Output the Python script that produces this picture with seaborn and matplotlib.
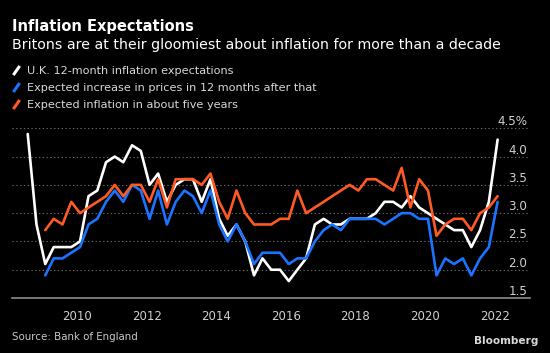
import numpy as np
import pandas as pd
import matplotlib
matplotlib.use("Agg")
import matplotlib.pyplot as plt
from matplotlib.lines import Line2D
import seaborn as sns

# ---- data (quarterly survey, Aug 2008 - Feb 2022) ----
dates = pd.date_range("2008-08-01", "2022-02-01", freq="3MS")

uk_12m = [4.4, 2.8, 2.1, 2.4, 2.4, 2.4, 2.5, 3.3, 3.4, 3.9,
          4.0, 3.9, 4.2, 4.1, 3.5, 3.7, 3.2, 3.5, 3.6, 3.6,
          3.2, 3.6, 2.9, 2.6, 2.8, 2.5, 1.9, 2.2, 2.0, 2.0,
          1.8, 2.0, 2.2, 2.8, 2.9, 2.8, 2.8, 2.9, 2.9, 2.9,
          3.0, 3.2, 3.2, 3.1, 3.3, 3.1, 3.0, 2.9, 2.8, 2.7,
          2.7, 2.4, 2.7, 3.2, 4.3]
after_12m = [np.nan, np.nan,
             1.9, 2.2, 2.2, 2.3, 2.4, 2.8, 2.9, 3.2,
             3.4, 3.2, 3.5, 3.4, 2.9, 3.4, 2.8, 3.2, 3.4, 3.3,
             3.0, 3.4, 2.8, 2.5, 2.8, 2.5, 2.1, 2.3, 2.3, 2.3,
             2.1, 2.2, 2.2, 2.5, 2.7, 2.8, 2.7, 2.9, 2.9, 2.9,
             2.9, 2.8, 2.9, 3.0, 3.0, 2.9, 2.9, 1.9, 2.2, 2.1,
             2.2, 1.9, 2.2, 2.4, 3.2]
five_year = [np.nan, np.nan,
             2.7, 2.9, 2.8, 3.2, 3.0, 3.1, 3.2, 3.3,
             3.5, 3.3, 3.5, 3.5, 3.2, 3.6, 3.1, 3.6, 3.6, 3.6,
             3.5, 3.7, 3.2, 2.9, 3.4, 3.0, 2.8, 2.8, 2.8, 2.9,
             2.9, 3.4, 3.0, 3.1, 3.2, 3.3, 3.4, 3.5, 3.4, 3.6,
             3.6, 3.5, 3.4, 3.8, 3.1, 3.6, 3.4, 2.6, 2.8, 2.9,
             2.9, 2.7, 3.0, 3.1, 3.3]

series_names = ["U.K. 12-month inflation expectations",
                "Expected increase in prices in 12 months after that",
                "Expected inflation in about five years"]
series_colors = ["#ffffff", "#1b74ff", "#ff5a23"]

y_ticks = [1.5, 2.0, 2.5, 3.0, 3.5, 4.0, 4.5]
y_tick_labels = ["1.5", "2.0", "2.5", "3.0", "3.5", "4.0", "4.5%"]
x_tick_years = [2010, 2012, 2014, 2016, 2018, 2020, 2022]

df = pd.concat([
    pd.DataFrame({"date": dates, "value": vals, "series": name})
    for name, vals in zip(series_names, [uk_12m, after_12m, five_year])
], ignore_index=True)

# ---- figure ----
sns.set_theme(style="dark")
plt.rcParams["font.family"] = ["DejaVu Sans"]
BG = "#000000"
fig = plt.figure(figsize=(5.5, 3.53), dpi=100, facecolor=BG)
ax = fig.add_axes([12 / 550, 1 - 298 / 353, (530 - 12) / 550, (298 - 128.3) / 353])
ax.set_facecolor(BG)

sns.lineplot(data=df, x="date", y="value", hue="series",
             hue_order=series_names,
             palette=dict(zip(series_names, series_colors)),
             linewidth=1.9, legend=False, ax=ax, zorder=3)

ax.set_xlim(pd.Timestamp("2008-02-18"), pd.Timestamp("2023-01-07"))
ax.set_ylim(1.5, 4.5)
ax.set_xlabel("")
ax.set_ylabel("")

# grid
ax.grid(False)
for v in y_ticks[1:]:
    ax.axhline(v, color="#6a6a6a", linestyle=(0, (1.2, 2.2)), linewidth=0.8, zorder=1)

for s in ["top", "left", "right"]:
    ax.spines[s].set_visible(False)
ax.spines["bottom"].set_color("#8c8c8c")
ax.spines["bottom"].set_linewidth(1.2)

ax.set_xticks([pd.Timestamp(f"{y}-01-01") for y in x_tick_years])
ax.set_xticklabels([str(y) for y in x_tick_years])
ax.tick_params(axis="x", colors="#8c8c8c", direction="out", length=4, width=1,
               labelcolor="#d0d0d0", labelsize=8.5, pad=4.5)

ax.yaxis.tick_right()
ax.set_yticks(y_ticks)
ax.set_yticklabels(y_tick_labels)
ax.tick_params(axis="y", length=0, labelcolor="#d0d0d0", labelsize=8.6, pad=-2)
for lab in ax.get_yticklabels():
    lab.set_ha("right")
    lab.set_va("bottom")

# titles
fig.text(12 / 550, 1 - 26 / 353, "Inflation Expectations", color="white",
         fontsize=10.5, fontweight="bold", va="center", ha="left")
fig.text(12 / 550, 1 - 45 / 353,
         "Britons are at their gloomiest about inflation for more than a decade",
         color="white", fontsize=10.15, va="center", ha="left")

# legend
handles = [Line2D([], [], linestyle="none", marker=(2, 0, -35), markersize=8,
                  markeredgewidth=2.2, markeredgecolor=c, color=c)
           for c in series_colors]
leg = fig.legend(handles, series_names, loc="upper left",
                 bbox_to_anchor=(11 / 550, 1 - 66 / 353), frameon=False,
                 handlelength=0.8, handletextpad=0.6, labelspacing=0.6,
                 fontsize=8.1, borderaxespad=0, borderpad=0)
for t in leg.get_texts():
    t.set_color("#d8d8d8")

fig.text(12 / 550, 1 - 337 / 353, "Source: Bank of England", color="#c8c8c8",
         fontsize=7.4, va="center", ha="left")
fig.text(538 / 550, 1 - 341 / 353, "Bloomberg", color="#d8d8d8",
         fontsize=7.6, fontweight="bold", va="center", ha="right")

fig.savefig("out.png", dpi=100, facecolor=BG)
